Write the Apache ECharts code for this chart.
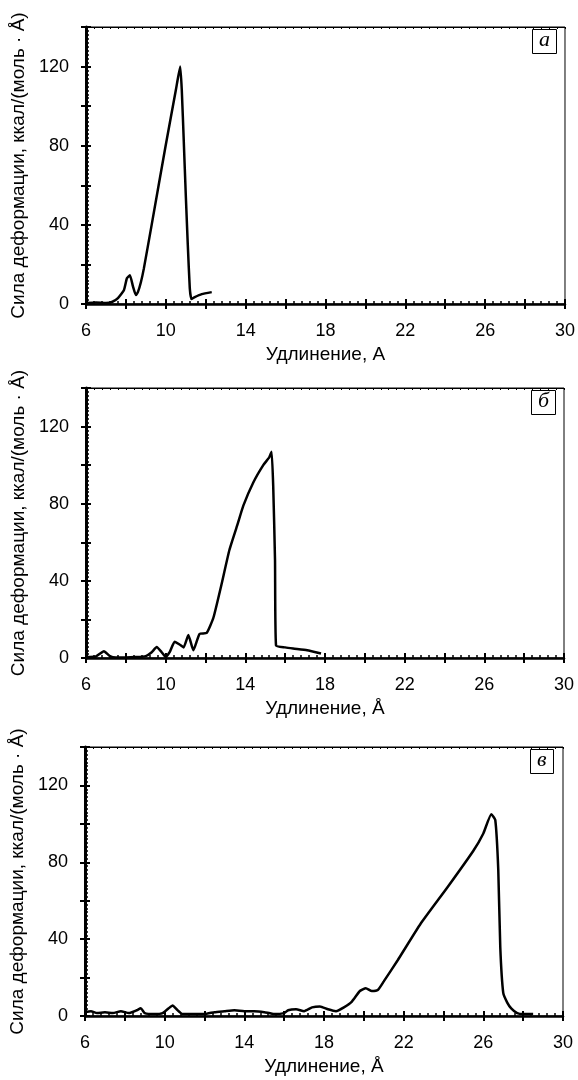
<!DOCTYPE html>
<html><head><meta charset="utf-8">
<script src="https://cdn.jsdelivr.net/npm/echarts@6/dist/echarts.min.js"></script>
<style>html,body{margin:0;padding:0;background:#fff}#c{width:578px;height:1080px}</style>
</head><body><div id="c"></div>
<script>
// Panel а
const aX = [6, 6.5, 7, 7.3, 7.6, 7.9, 8.05, 8.2, 8.35, 8.5, 8.6, 8.75, 8.9, 9.29, 9.99, 10.5, 10.72, 10.8, 10.9, 11.0, 11.1, 11.2, 11.28, 11.45, 11.8, 12.3];
const aY = [0.5, 0.8, 0.5, 1, 3, 7, 13, 14.5, 9, 4.5, 6, 11, 18, 40, 80, 108, 120, 108, 82, 55, 30, 8, 2.5, 3.5, 5, 6];
// Panel б
const bX = [6, 6.5, 6.9, 7.2, 7.5, 8, 8.5, 9.0, 9.3, 9.55, 9.8, 10.0, 10.2, 10.45, 10.7, 10.9, 11.14, 11.39, 11.7, 12.06, 12.4, 12.8, 13.2, 13.6, 13.9, 14.4, 14.9, 15.2, 15.32, 15.4, 15.49, 15.54, 16.0, 16.4, 17.1, 17.8];
const bY = [0.5, 0.8, 3.5, 1, 0.3, 0.3, 0.5, 1, 3, 5.7, 3, 0.5, 3, 8.4, 7, 5.5, 11.9, 4, 12.5, 13, 21, 38, 56, 69, 79, 91, 100, 104, 107, 89, 51, 6.6, 5.5, 4.9, 4, 2.3];
// Panel в
const cX = [6, 6.3, 6.6, 7, 7.4, 7.8, 8.2, 8.6, 8.8, 9.0, 9.5, 9.9, 10.2, 10.4, 10.6, 10.9, 11.5, 12, 12.5, 13, 13.5, 14, 14.5, 15, 15.5, 16, 16.2, 16.6, 17, 17.4, 17.8, 18.2, 18.6, 19.0, 19.4, 19.8, 20.1, 20.4, 20.7, 21, 21.7, 22.85, 24.2, 25.5, 26, 26.4, 26.6, 26.75, 26.85, 27.0, 27.2, 27.4, 27.7, 28, 28.5];
const cY = [2, 2.5, 1.5, 2, 1.5, 2.5, 1.5, 3, 4, 1.5, 1, 1.5, 4, 5.5, 3.5, 1, 1, 1, 2, 2.5, 3, 2.5, 2.5, 2, 1, 1.5, 3, 3.5, 2.5, 4.5, 5, 3.5, 2.5, 4.5, 7.5, 13, 14.5, 13, 13.5, 18, 29, 48, 67, 86, 95, 105, 102, 76, 36, 12, 7, 4, 1.5, 1, 1];

const xTicks = [6, 10, 14, 18, 22, 26, 30];
const yTicks = [0, 40, 80, 120];
const panelLetters = ['а', 'б', 'в'];
const xTitles = ['Удлинение, А', 'Удлинение, Å', 'Удлинение, Å'];
const yTitle = 'Сила деформации, ккал/(моль · Å)';

const FONT = '"Liberation Sans", Arial, sans-serif';
const grids = [
  {left: 86, top: 27, width: 479, height: 277},
  {left: 86, top: 388, width: 478, height: 270},
  {left: 84, top: 747, width: 479, height: 269}
];
const curves = [[aX, aY], [bX, bY], [cX, cY]];

const xAxes = [], yAxes = [], series = [], titles = [];
grids.forEach((g, i) => {
  g.show = true; g.borderColor = '#000'; g.borderWidth = 1; g.backgroundColor = 'transparent';
  const base = {type: 'value', gridIndex: i, min: 6, max: 30, interval: 2};
  xAxes.push(Object.assign({}, base, {
    position: 'bottom',
    name: xTitles[i], nameLocation: 'middle', nameGap: 41,
    nameTextStyle: {fontFamily: FONT, fontSize: 19, color: '#000'},
    axisLine: {show: true, lineStyle: {color: '#000', width: 2.5}},
    axisTick: {show: true, inside: false, length: 5, lineStyle: {color: '#000', width: 2}},
    axisLabel: {show: true, margin: 18, fontFamily: FONT, fontSize: 18, color: '#000',
      formatter: v => xTicks.includes(v) ? String(v) : ''},
    splitLine: {show: false}
  }));
  xAxes.push(Object.assign({}, base, {
    position: 'bottom',
    axisLine: {show: false},
    axisTick: {show: true, inside: true, length: 5, lineStyle: {color: '#000', width: 2}},
    minorTick: {show: true, splitNumber: 5, length: 3, lineStyle: {color: '#000', width: 1.5}},
    axisLabel: {show: false}, splitLine: {show: false}
  }));
  xAxes.push(Object.assign({}, base, {
    position: 'top',
    axisLine: {show: true, lineStyle: {color: '#000', width: 1}},
    axisTick: {show: true, inside: true, length: 2, lineStyle: {color: '#000', width: 1}},
    minorTick: {show: true, splitNumber: 5, length: 2, lineStyle: {color: '#000', width: 1}},
    axisLabel: {show: false}, splitLine: {show: false}
  }));
  const ybase = {type: 'value', gridIndex: i, min: 0, max: 140, interval: 20};
  yAxes.push(Object.assign({}, ybase, {
    position: 'left',
    name: yTitle, nameLocation: 'middle', nameGap: 58, nameRotate: 90,
    nameTextStyle: {fontFamily: FONT, fontSize: 19, color: '#000'},
    axisLine: {show: true, lineStyle: {color: '#000', width: 3}},
    axisTick: {show: true, inside: false, length: 5, lineStyle: {color: '#000', width: 2}},
    axisLabel: {show: true, margin: 17, fontFamily: FONT, fontSize: 18, color: '#000',
      formatter: v => yTicks.includes(v) ? String(v) : ''},
    splitLine: {show: false}
  }));
  yAxes.push(Object.assign({}, ybase, {
    position: 'left',
    axisLine: {show: false},
    axisTick: {show: true, inside: true, length: 5, lineStyle: {color: '#000', width: 2}},
    minorTick: {show: true, splitNumber: 10, length: 3, lineStyle: {color: '#000', width: 1.5}},
    axisLabel: {show: false}, splitLine: {show: false}
  }));
  const [xs, ys] = curves[i];
  series.push({
    type: 'line', xAxisIndex: i * 3, yAxisIndex: i * 2,
    data: xs.map((x, k) => [x, ys[k]]),
    showSymbol: false, smooth: 0.15, silent: true,
    lineStyle: {color: '#000', width: 2.5}
  });
  titles.push({
    text: panelLetters[i],
    left: g.left + g.width - 33, top: g.top + 2,
    padding: [0, 7, 3, 7],
    borderColor: '#000', borderWidth: 1,
    textStyle: {fontFamily: '"Liberation Serif", "Times New Roman", serif', fontStyle: 'italic',
      fontWeight: 'normal', fontSize: 22, color: '#000', lineHeight: 22}
  });
});

const chart = echarts.init(document.getElementById('c'), null, {renderer: 'canvas'});
chart.setOption({
  animation: false,
  backgroundColor: '#fff',
  title: titles,
  grid: grids,
  xAxis: xAxes,
  yAxis: yAxes,
  series: series
});
</script>
</body></html>
